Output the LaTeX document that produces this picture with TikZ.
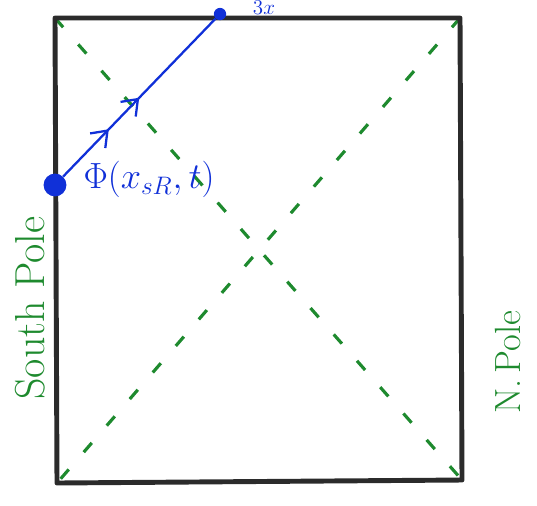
\documentclass[tikz,border=0pt]{standalone}
\usepackage{amsmath,amssymb}
\usepackage{xcolor}
\usepackage{tikz}
\usetikzlibrary{positioning,arrows.meta,calc,decorations.markings}
\definecolor{ink}{HTML}{2B2B2B}
\definecolor{grn}{HTML}{1E8A2E}
\definecolor{blu}{HTML}{1030D8}

\begin{document}
\begin{tikzpicture}[x=0.02cm,y=-0.02cm,
  edge/.style={line width=2.8pt,ink,line join=round},
  diag/.style={grn,line width=1.8pt,dash pattern=on 7pt off 13pt},
  pole/.style={grn,font=\huge,rotate=90},
  ray/.style={blu,line width=1.3pt,postaction={decorate},
    decoration={markings,
      mark=at position 0.30 with {\arrow{Straight Barb[length=8pt,width=12pt]}},
      mark=at position 0.50 with {\arrow{Straight Barb[length=8pt,width=12pt]}}}}]
  \useasboundingbox (0,0) rectangle (537,505);
  % corners of the square
  \coordinate (tl) at (55,18);  \coordinate (tr) at (460,18);
  \coordinate (br) at (462,480); \coordinate (bl) at (57,483);
  \draw[diag] (tl)--(br); \draw[diag] (tr)--(bl);
  \draw[edge] (tl)--(tr)--(br)--(bl)--cycle;
  % the blue ray and its end points
  \node[circle,fill=blu,inner sep=0pt,minimum size=13pt] (src) at (55,185){};
  \node[circle,fill=blu,inner sep=0pt,minimum size=7pt] (hit) at (220,14){};
  \draw[ray] (src)--(hit);
  \node[blu,font=\huge,right=6pt of src,yshift=3pt] (phi){$\Phi(x_{sR},t)$};
  \node[blu,font=\large] (lab) at (264,8){$3x$};
  % poles
  \node[pole,scale=1.15] (sp) at (30,308){South Pole};
  \node[pole] (np) at (508,362){N.\,Pole};
\end{tikzpicture}
\end{document}
